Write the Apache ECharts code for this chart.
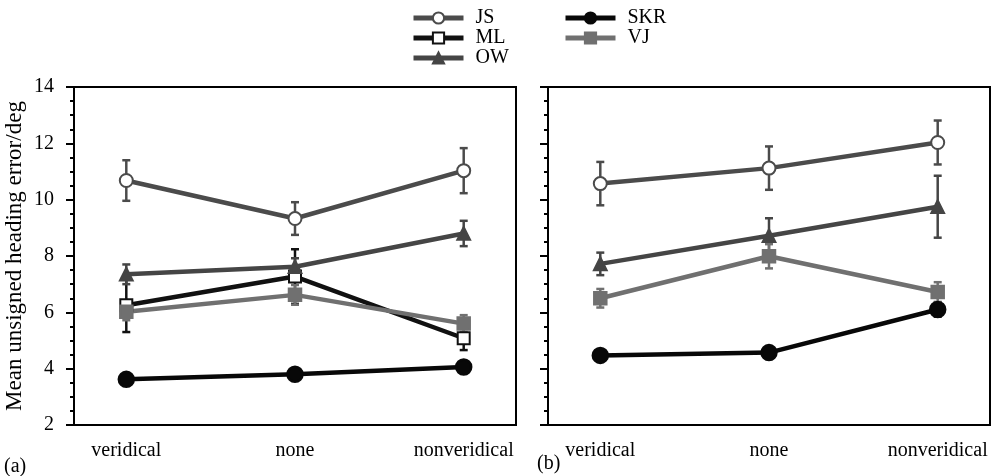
<!DOCTYPE html>
<html>
<head>
<meta charset="utf-8">
<script src="https://cdn.jsdelivr.net/npm/echarts@6/dist/echarts.min.js"></script>
<style>html,body{margin:0;padding:0;background:#fff}#c{width:997px;height:476px}</style>
</head>
<body>
<div id="c"></div>
<script>
var categories = ['veridical', 'none', 'nonveridical'];
var yTicks = [2, 4, 6, 8, 10, 12, 14];
var seriesNames = ['JS', 'ML', 'OW', 'SKR', 'VJ'];

// Panel (a) means and error half-widths
var aJS = [10.68, 9.33, 11.03];   var aJSerr = [0.72, 0.58, 0.8];
var aML = [6.25, 7.27, 5.08];     var aMLerr = [0.95, 0.97, 0.42];
var aOW = [7.35, 7.62, 8.8];      var aOWerr = [0.35, 0.3, 0.45];
var aSKR = [3.62, 3.8, 4.06];     var aSKRerr = [0.15, 0.12, 0.18];
var aVJ = [6.02, 6.62, 5.6];      var aVJerr = [0.3, 0.35, 0.3];

// Panel (b)
var bJS = [10.57, 11.12, 12.03];  var bJSerr = [0.77, 0.77, 0.78];
var bOW = [7.72, 8.72, 9.75];     var bOWerr = [0.4, 0.62, 1.1];
var bSKR = [4.47, 4.57, 6.1];     var bSKRerr = [0.15, 0.15, 0.25];
var bVJ = [6.5, 7.99, 6.72];      var bVJerr = [0.33, 0.43, 0.35];

var colors = { JS: '#4b4b4b', ML: '#111111', OW: '#454545', SKR: '#080808', VJ: '#707070' };
var symbols = {
  JS: { symbol: 'emptyCircle', size: 13 },
  ML: { symbol: 'emptyRect', size: 12 },
  OW: { symbol: 'triangle', size: 12 },
  SKR: { symbol: 'circle', size: 15 },
  VJ: { symbol: 'rect', size: 12 }
};

var FONT = "'Liberation Serif', 'DejaVu Serif', serif";

function pts(vals) { return vals.map(function (v, i) { return [i, v]; }); }
function errPts(vals, errs) { return vals.map(function (v, i) { return [i, v - errs[i], v + errs[i]]; }); }

function lineSeries(name, vals, idx) {
  return {
    name: name, type: 'line', xAxisIndex: idx, yAxisIndex: idx,
    data: pts(vals), symbol: symbols[name].symbol, symbolSize: symbols[name].size,
    lineStyle: { color: colors[name], width: 4.5 },
    itemStyle: { color: colors[name], borderColor: colors[name], borderWidth: 2.5 },
    z: 3, animation: false
  };
}
function errSeries(name, vals, errs, idx) {
  return {
    name: name + ' err', type: 'custom', xAxisIndex: idx, yAxisIndex: idx,
    data: errPts(vals, errs), z: 2, animation: false, silent: true,
    renderItem: function (params, api) {
      var lo = api.coord([api.value(0), api.value(1)]);
      var hi = api.coord([api.value(0), api.value(2)]);
      var hw = 4;
      var st = { stroke: colors[name], lineWidth: 2.5 };
      return {
        type: 'group', children: [
          { type: 'line', shape: { x1: lo[0], y1: lo[1], x2: hi[0], y2: hi[1] }, style: st },
          { type: 'line', shape: { x1: lo[0] - hw, y1: lo[1], x2: lo[0] + hw, y2: lo[1] }, style: st },
          { type: 'line', shape: { x1: hi[0] - hw, y1: hi[1], x2: hi[0] + hw, y2: hi[1] }, style: st }
        ]
      };
    }
  };
}

function xAxis(idx) {
  return {
    type: 'value', gridIndex: idx, min: -0.31, max: 2.31,
    axisLine: { show: true, onZero: false, lineStyle: { color: '#000', width: 2 } },
    axisTick: { show: false }, splitLine: { show: false },
    axisLabel: {
      customValues: [0, 1, 2], margin: 16, color: '#000', fontFamily: FONT, fontSize: 20,
      formatter: function (v) { return categories[Math.round(v)]; }
    }
  };
}
function yAxis(idx, showLabels) {
  return {
    type: 'value', gridIndex: idx, min: yTicks[0], max: yTicks[yTicks.length - 1], interval: 2,
    name: showLabels ? 'Mean unsigned heading error/deg' : '',
    nameLocation: 'middle', nameGap: 48, nameRotate: 90,
    nameTextStyle: { color: '#000', fontFamily: FONT, fontSize: 23 },
    axisLine: { show: true, onZero: false, lineStyle: { color: '#000', width: 2 } },
    axisTick: { show: true, length: 8, lineStyle: { color: '#000', width: 2 } },
    minorTick: { show: true, splitNumber: 4, length: 4, lineStyle: { color: '#000', width: 2 } },
    splitLine: { show: false },
    axisLabel: { show: showLabels, margin: 20, color: '#000', fontFamily: FONT, fontSize: 20 }
  };
}

var series = [
  errSeries('JS', aJS, aJSerr, 0), errSeries('ML', aML, aMLerr, 0), errSeries('OW', aOW, aOWerr, 0),
  errSeries('SKR', aSKR, aSKRerr, 0), errSeries('VJ', aVJ, aVJerr, 0),
  lineSeries('JS', aJS, 0), lineSeries('ML', aML, 0), lineSeries('OW', aOW, 0),
  lineSeries('SKR', aSKR, 0), lineSeries('VJ', aVJ, 0),
  errSeries('JS', bJS, bJSerr, 1), errSeries('OW', bOW, bOWerr, 1),
  errSeries('SKR', bSKR, bSKRerr, 1), errSeries('VJ', bVJ, bVJerr, 1),
  lineSeries('JS', bJS, 1), lineSeries('OW', bOW, 1),
  lineSeries('SKR', bSKR, 1), lineSeries('VJ', bVJ, 1)
];

var legendCommon = {
  orient: 'vertical', itemWidth: 50, itemHeight: 14, itemGap: 0, top: 8, padding: 0,
  textStyle: { color: '#000', fontFamily: FONT, fontSize: 20, padding: [0, 0, 0, 7] },
  lineStyle: { width: 5 }, selectedMode: false
};

var chart = echarts.init(document.getElementById('c'), null, { renderer: 'canvas' });
chart.setOption({
  backgroundColor: '#fff',
  animation: false,
  title: [
    { text: '(a)', left: 4, top: 457, textStyle: { color: '#000', fontFamily: FONT, fontSize: 20, fontWeight: 'normal' }, padding: 0 },
    { text: '(b)', left: 537, top: 454, textStyle: { color: '#000', fontFamily: FONT, fontSize: 20, fontWeight: 'normal' }, padding: 0 }
  ],
  legend: [
    Object.assign({}, legendCommon, { left: 411, data: seriesNames.slice(0, 3) }),
    Object.assign({}, legendCommon, { left: 563, data: seriesNames.slice(3) })
  ],
  grid: [
    { left: 74, top: 87, width: 442, height: 338, show: true, borderColor: '#000', borderWidth: 2, backgroundColor: 'transparent' },
    { left: 548, top: 87, width: 442, height: 338, show: true, borderColor: '#000', borderWidth: 2, backgroundColor: 'transparent' }
  ],
  xAxis: [xAxis(0), xAxis(1)],
  yAxis: [yAxis(0, true), yAxis(1, false)],
  series: series
});
</script>
</body>
</html>
